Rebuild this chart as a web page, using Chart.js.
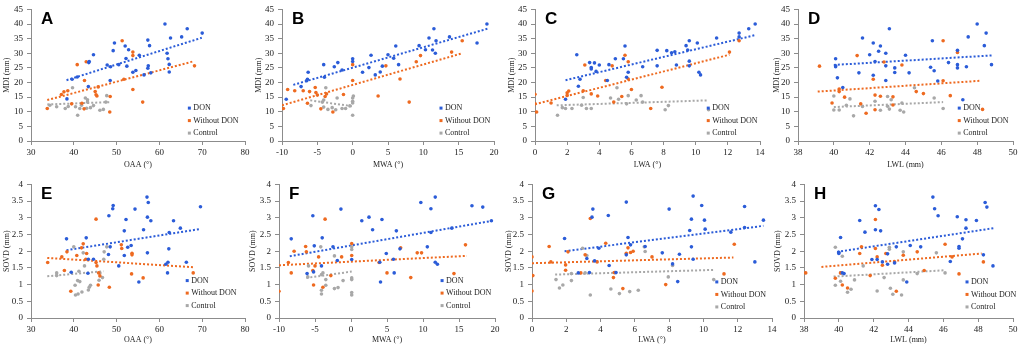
<!DOCTYPE html>
<html>
<head>
<meta charset="utf-8">
<script src="https://cdn.jsdelivr.net/npm/chart.js@4.4.0/dist/chart.umd.min.js"></script>
<style>
  body { margin: 0; background: #fff; width: 1021px; height: 350px; position: relative; overflow: hidden; }
  canvas { position: absolute; }
</style>
</head>
<body>
<script>
// series names + colours
const seriesNames = ["DON", "Without DON", "Control"];
const blue = "#2B5CD8", orange = "#EE6A20", gray = "#A8A8A8";

// ---- A : MDI vs OAA ----
const donA = [[61.3,40.0],[66.5,38.4],[70.0,36.9],[62.6,35.2],[65.2,35.6],[57.3,34.5],[49.5,33.5],[52.0,32.5],[57.7,32.6],[52.8,31.2],[49.2,30.9],[44.6,29.5],[55.3,29.3],[61.8,30.0],[62.0,28.1],[52.2,28.2],[43.6,27.2],[43.5,26.8],[47.8,26.0],[50.5,26.1],[48.6,25.4],[52.4,25.6],[57.4,25.7],[57.3,24.9],[62.3,26.2],[54.5,24.1],[53.8,23.5],[62.3,23.6],[58.0,23.3],[56.4,22.6],[40.8,21.9],[39.6,21.1],[48.5,20.7],[43.4,18.6],[38.4,14.4]];
const woA = [[51.3,34.3],[53.8,30.4],[53.8,29.2],[40.8,26.1],[42.9,27.1],[68.2,25.7],[42.5,20.7],[51.7,21.1],[45.7,18.5],[37.1,15.9],[37.7,16.8],[38.6,17.2],[45.0,16.9],[45.2,15.8],[45.4,15.4],[48.5,15.2],[53.8,17.6],[41.9,12.9],[39.5,12.7],[42.4,11.0],[33.8,11.1],[48.4,9.9],[56.1,13.3]];
const ctlA = [[39.7,18.2],[47.7,15.5],[42.7,14.7],[43.2,14.1],[43.2,13.3],[47.5,13.3],[34.4,12.2],[36.0,11.7],[38.7,11.8],[40.4,11.7],[41.4,11.1],[41.8,12.2],[43.0,11.2],[43.9,11.4],[46.1,10.5],[46.9,10.8],[40.9,8.8],[38.0,11.1],[44.6,12.1]];
const donLineA = [[38.3,20.8],[69.9,35.3]];
const woLineA = [[33.8,14.0],[68.1,27.3]];
const ctlLineA = [[33.8,12.5],[48.5,13.3]];

// ---- B : MDI vs MWA ----
const donB = [[19.0,40.0],[11.5,38.4],[10.8,35.2],[13.7,35.6],[11.8,34.3],[17.6,33.5],[6.1,32.5],[9.4,32.6],[5.0,29.5],[2.6,29.3],[5.8,28.3],[10.3,31.2],[11.3,31.1],[11.7,30.0],[0.0,28.1],[0.0,27.2],[-2.1,26.8],[-4.1,26.1],[6.5,26.1],[-2.6,25.4],[4.2,25.6],[2.3,25.1],[-1.5,24.3],[-6.3,23.5],[1.4,23.5],[3.9,23.6],[-4.0,21.8],[-6.4,21.1],[-6.5,20.6],[3.2,22.6],[-7.3,18.6],[-9.4,14.3]];
const woB = [[15.5,34.3],[14.0,30.4],[9.6,29.2],[9.0,27.1],[4.7,25.7],[0.0,26.1],[0.0,20.7],[6.7,21.2],[-9.2,17.6],[-8.2,17.2],[-7.0,17.2],[-6.1,16.9],[-5.3,18.3],[-5.2,16.6],[-3.7,16.1],[-1.3,15.9],[-3.9,15.2],[3.6,15.4],[-5.0,15.7],[-6.4,12.9],[-9.8,11.1],[-4.5,11.0],[-2.8,9.9],[8.0,13.3]];
const ctlB = [[-3.8,18.2],[0.1,15.4],[0,14.7],[0,13.6],[0,13.0],[0,8.8],[-2.2,14.7],[-4.1,14.0],[-5.9,12.1],[-4.1,11.6],[-3.5,10.8],[-1.5,11.1],[-1.0,11.1],[-0.4,12.0],[-2.4,10.7],[-4.3,13.3],[-2.9,11.4]];
const donLineB = [[-8.4,19.2],[19.1,38.4]];
const woLineB = [[-10,12.2],[15.5,30.0]];
const ctlLineB = [[-6.0,13.9],[-0.1,11.9]];

// ---- C : MDI vs LWA ----
const donC = [[13.7,40.0],[13.3,38.4],[12.7,35.6],[12.7,36.9],[11.3,35.2],[9.6,34.3],[10.1,33.5],[9.4,32.6],[8.2,30.9],[8.5,30.2],[9.5,31.1],[2.6,29.5],[5.6,32.5],[3.4,26.8],[3.7,26.7],[4.0,26.0],[4.6,26.1],[5.5,28.1],[5.0,28.1],[3.5,25.1],[3.5,24.6],[3.8,23.8],[5.8,23.5],[5.7,21.8],[6.7,25.4],[7.6,25.7],[8.7,30.5],[8.8,26.0],[7.6,31.0],[9.6,27.3],[9.6,25.7],[10.2,23.5],[10.3,22.6],[2.8,21.1],[4.5,20.7],[2.7,18.7],[1.9,14.3]];
const woC = [[12.7,34.3],[12.1,30.4],[5.6,29.3],[5.8,27.1],[3.1,26.0],[4.8,25.7],[4.4,20.7],[5.8,21.2],[7.9,18.4],[6.0,17.6],[0,16.0],[2.0,16.5],[2.1,17.1],[2.0,15.6],[3.0,17.2],[3.5,16.1],[3.9,15.4],[5.4,15.2],[1.0,13.0],[0.1,9.9],[0,12.7],[4.9,13.3],[7.2,11.1]];
const ctlC = [[5.1,18.2],[3.0,14.9],[4.7,14.7],[6.6,15.5],[5.8,15.5],[6.3,14.0],[5.2,14.3],[6.7,13.3],[5.7,12.7],[8.3,12.1],[1.4,8.8],[1.7,11.4],[1.9,11.1],[2.3,11.1],[2.9,12.2],[3.2,11.1],[3.5,11.1],[8.1,10.7],[10.8,10.7]];
const donLineC = [[1.9,20.8],[13.7,36.2]];
const woLineC = [[0,12.6],[12.1,29.5]];
const ctlLineC = [[1.35,12.2],[10.8,13.9]];

// ---- D : MDI vs LWL ----
const donD = [[48.0,40.0],[48.5,36.9],[47.5,35.6],[41.6,35.2],[45.5,34.3],[43.1,38.4],[42.2,33.5],[42.6,32.5],[48.4,32.6],[42.5,30.7],[46.9,31.0],[42.9,30.0],[42.0,29.5],[44.0,29.3],[40.1,28.1],[42.3,27.2],[46.4,26.8],[46.9,26.1],[48.8,26.1],[42.9,25.7],[40.1,25.7],[40.1,25.4],[47.4,25.4],[46.9,25.0],[45.4,25.2],[43.4,25.0],[45.6,24.0],[43.4,23.4],[44.2,23.3],[41.4,23.3],[42.2,22.5],[40.2,21.6],[42.9,20.7],[45.8,20.5],[40.5,18.3],[47.2,14.1]];
const woD = [[46.1,34.3],[46.9,30.3],[41.3,29.2],[42.8,27.0],[43.8,26.0],[39.2,25.6],[42.2,21.1],[46.1,20.6],[40.3,17.8],[40.6,15.0],[44.6,16.9],[45.0,16.2],[46.5,15.5],[42.3,15.7],[42.6,15.3],[43.3,15.1],[41.5,12.7],[43.3,12.3],[39.9,13.0],[41.8,9.5],[42.3,10.7],[48.3,10.8],[40.3,16.9]];
const ctlD = [[44.5,18.2],[40.0,15.4],[40.9,14.4],[43.0,15.2],[43.2,14.1],[45.6,14.7],[42.3,13.6],[43.8,13.0],[40.7,12.2],[41.6,11.8],[43.0,11.9],[40.0,10.6],[40.3,10.6],[42.6,10.5],[43.7,10.5],[43.1,10.9],[41.1,8.6],[46.1,11.1],[43.9,9.9]];
const donLineD = [[40.0,26.0],[48.9,29.3]];
const woLineD = [[39.1,16.9],[48.2,20.6]];
const ctlLineD = [[40.0,11.6],[46.1,13.3]];

// ---- E : SOVD vs OAA ----
const donE = [[57.1,3.62],[57.4,3.46],[49.2,3.37],[49.1,3.27],[54.3,3.26],[69.6,3.33],[48.2,3.06],[57.2,3.02],[52.2,2.95],[58.0,2.91],[63.3,2.91],[51.8,2.61],[56.3,2.64],[62.3,2.56],[64.9,2.69],[38.3,2.37],[42.9,2.40],[48.5,2.13],[52.6,2.12],[53.4,2.17],[62.2,2.07],[57.2,1.95],[51.8,1.87],[48.1,1.90],[43.4,1.76],[44.6,1.76],[62.0,1.67],[66.3,1.67],[61.5,1.61],[50.5,1.56],[39.4,1.37],[43.3,1.34],[61.9,1.35],[55.2,1.08]];
const woE = [[45.2,2.96],[42.2,2.22],[41.8,2.10],[40.7,1.87],[43.0,1.93],[38.4,1.98],[37.2,1.83],[51.1,2.19],[51.2,2.08],[53.6,1.94],[53.6,1.89],[42.8,1.76],[45.2,1.66],[45.4,1.56],[33.9,1.66],[37.8,1.42],[45.8,1.35],[46.1,1.26],[53.5,1.32],[56.2,1.20],[67.9,1.35],[45.7,0.99],[48.3,0.92],[39.3,0.80]];
const ctlE = [[40.0,2.13],[42.2,1.95],[47.1,1.98],[47.7,2.13],[42.5,1.56],[47.0,1.76],[36.0,1.35],[36.0,1.27],[41.2,1.40],[46.1,1.35],[46.7,1.21],[45.9,1.13],[40.9,1.12],[41.4,1.09],[40.3,0.98],[43.6,0.92],[43.4,0.84],[41.9,0.78],[41.0,0.72],[40.4,0.69],[43.9,0.98]];
const donLineE = [[38.3,2.03],[69.3,2.66]];
const woLineE = [[33.8,1.80],[67.9,1.52]];
const ctlLineE = [[33.8,1.25],[46.9,1.40]];

// ---- F : SOVD vs MWA ----
const donF = [[11.7,3.62],[11.1,3.27],[9.7,3.46],[16.8,3.36],[18.3,3.32],[-1.4,3.26],[-5.3,3.06],[2.5,3.02],[4.3,2.95],[1.5,2.91],[19.5,2.91],[3.0,2.64],[6.3,2.61],[11.1,2.56],[14.0,2.69],[-8.3,2.37],[-4.0,2.40],[-5.1,2.16],[-2.5,2.13],[10.6,2.13],[6.8,2.07],[4.9,1.93],[0.1,1.75],[-1.9,1.72],[5.9,1.76],[4.0,1.67],[11.7,1.67],[12.0,1.61],[-4.1,1.56],[-5.2,1.38],[-6.1,1.33],[6.0,1.35],[4.1,1.08]];
const woF = [[-3.6,2.96],[0.1,2.23],[0.1,1.87],[-6.3,2.14],[-6.2,1.98],[-7.9,2.0],[-4.5,1.83],[-1.3,1.83],[15.9,2.19],[6.9,2.10],[9.2,1.95],[9.8,1.95],[3.9,1.66],[-8.7,1.66],[-5.0,1.56],[-5.3,1.42],[-8.3,1.35],[-2.8,1.27],[5.0,1.35],[8.3,1.21],[14.3,1.33],[-5.2,0.99],[-3.9,0.92],[-10,0.80]];
const ctlF = [[-4.2,2.13],[-2.3,1.86],[0.1,2.13],[0.1,2.05],[-5.9,1.56],[-3.9,1.35],[-4.1,1.30],[-6.0,1.23],[0.1,1.20],[0.1,1.15],[-3.5,1.15],[-1.1,1.12],[-3.5,0.98],[-4.1,0.83],[-2.3,0.88],[-1.8,0.91],[-4.1,0.72],[0.1,0.76],[0.1,0.69]];
const donLineF = [[-8.5,1.85],[19.6,2.91]];
const woLineF = [[-10,1.58],[16.1,1.86]];
const ctlLineF = [[-6.2,1.20],[0.1,1.39]];

// ---- G : SOVD vs LWA ----
const donG = [[9.4,3.65],[5.5,3.47],[3.55,3.26],[3.5,3.02],[4.45,3.07],[8.0,3.26],[9.9,3.37],[12.4,3.34],[9.3,2.96],[10.06,2.93],[13.5,2.93],[9.2,2.62],[10.1,2.66],[11.6,2.57],[12.4,2.71],[5.6,2.41],[1.9,2.38],[3.9,2.09],[5.75,2.19],[6.6,2.14],[9.3,2.13],[7.6,1.95],[5.5,1.89],[8.6,1.91],[9.4,1.76],[3.2,1.78],[3.65,1.71],[4.5,1.57],[13.0,1.68],[8.2,1.62],[2.7,1.35],[3.35,1.36],[4.9,1.36],[8.5,1.09]];
const woG = [[3.4,2.98],[4.3,2.24],[5.6,2.10],[1.0,2.14],[11.8,2.21],[3.1,1.89],[2.1,1.98],[0,1.83],[5.5,1.94],[5.75,1.96],[5.9,2.0],[7.0,1.83],[1.1,1.68],[1.96,1.59],[3.8,1.68],[1.96,1.43],[2.85,1.35],[4.8,1.36],[4.75,1.21],[0.05,1.27],[0,0.81],[11.2,1.32],[7.8,1.0],[5.3,0.88]];
const ctlG = [[2.95,2.09],[6.55,2.13],[6.6,1.99],[3.2,1.87],[8.2,1.57],[1.4,1.15],[2.3,1.33],[3.1,1.35],[4.85,1.36],[7.95,1.23],[10.6,1.15],[2.3,1.12],[1.8,0.99],[1.6,0.90],[4.6,0.87],[6.2,0.83],[5.7,0.79],[5.1,0.73],[3.4,0.69]];
const donLineG = [[1.9,2.0],[13.5,2.76]];
const woLineG = [[0,1.64],[11.75,1.81]];
const ctlLineG = [[1.35,1.30],[10.6,1.44]];

// ---- H : SOVD vs LWL ----
const donH = [[45.4,3.62],[45.5,3.27],[45.7,3.06],[48.4,3.46],[48.5,3.32],[42.1,3.36],[42.3,3.25],[41.2,2.92],[46.8,3.03],[47.3,2.94],[47.9,2.92],[42.1,2.64],[42.4,2.61],[41.5,2.57],[47.3,2.69],[47.1,2.37],[40.1,2.41],[44.7,2.13],[44.1,2.17],[46.9,2.09],[46.9,2.14],[43.3,2.13],[40.0,1.97],[40.0,1.93],[42.8,1.92],[48.3,1.89],[42.2,1.75],[41.9,1.75],[42.5,1.68],[46.4,1.69],[43.2,1.65],[42.8,1.61],[48.85,1.56],[40.2,1.35],[40.3,1.33],[43.9,1.08]];
const woH = [[42.1,2.95],[41.3,2.13],[42.1,2.08],[41.2,1.93],[42.7,1.93],[43.7,1.88],[44.5,1.98],[46.1,2.21],[42.2,1.83],[46.5,1.83],[42.5,1.58],[43.2,1.68],[48.3,1.68],[38.1,1.35],[40.1,1.35],[39.8,1.19],[41.8,1.27],[40.2,0.99],[40.5,0.90],[43.3,0.80],[46.9,1.32],[44.9,1.42]];
const ctlH = [[39.8,2.12],[40.2,1.85],[42.9,2.12],[42.9,2.06],[43.7,1.98],[45.6,1.95],[41.4,1.56],[40.1,1.35],[46.1,1.35],[44.5,1.33],[43.7,1.14],[40.9,1.14],[42.6,1.21],[40.1,1.10],[39.8,0.98],[40.7,0.86],[40.5,0.77],[42.2,0.81],[42.96,0.89],[43.1,0.71],[43.6,0.69]];
const donLineH = [[39.9,1.98],[48.9,2.69]];
const woLineH = [[39.0,1.53],[48.2,1.93]];
const ctlLineH = [[39.7,1.24],[46.1,1.43]];

// axis ranges [min, max, step]
const oaaRange = [30, 80, 10], mwaRange = [-10, 20, 5], lwaRange = [0, 14, 2], lwlRange = [38, 50, 2];
const mdiRange = [0, 45, 5], sovdRange = [0, 4, 0.5];

const panels = [
  { letter: "A", row: 0, left: 0,   plotL: 31,  plotR: 245,  xr: oaaRange, yr: mdiRange,  xt: "OAA (°)",  yt: "MDI (mm)",  leg: [0.74, 0.75], s: [donA, woA, ctlA, donLineA, woLineA, ctlLineA] },
  { letter: "B", row: 0, left: 252, plotL: 282, plotR: 494,  xr: mwaRange, yr: mdiRange,  xt: "MWA (°)",  yt: "MDI (mm)",  leg: [0.75, 0.75], s: [donB, woB, ctlB, donLineB, woLineB, ctlLineB] },
  { letter: "C", row: 0, left: 505, plotL: 535, plotR: 760,  xr: lwaRange, yr: mdiRange,  xt: "LWA (°)",  yt: "MDI (mm)",  leg: [0.77, 0.75], s: [donC, woC, ctlC, donLineC, woLineC, ctlLineC] },
  { letter: "D", row: 0, left: 770, plotL: 798, plotR: 1013, xr: lwlRange, yr: mdiRange,  xt: "LWL (mm)", yt: "MDI (mm)",  leg: [0.75, 0.75], s: [donD, woD, ctlD, donLineD, woLineD, ctlLineD] },
  { letter: "E", row: 1, left: 0,   plotL: 31,  plotR: 245,  xr: oaaRange, yr: sovdRange, xt: "OAA (°)",  yt: "SOVD (mm)", leg: [0.73, 0.72], s: [donE, woE, ctlE, donLineE, woLineE, ctlLineE] },
  { letter: "F", row: 1, left: 246, plotL: 279, plotR: 495,  xr: mwaRange, yr: sovdRange, xt: "MWA (°)",  yt: "SOVD (mm)", leg: [0.755, 0.72], s: [donF, woF, ctlF, donLineF, woLineF, ctlLineF] },
  { letter: "G", row: 1, left: 502, plotL: 532, plotR: 772,  xr: lwaRange, yr: sovdRange, xt: "LWA (°)",  yt: "SOVD (mm)", leg: [0.77, 0.73], s: [donG, woG, ctlG, donLineG, woLineG, ctlLineG] },
  { letter: "H", row: 1, left: 771, plotL: 804, plotR: 1013, xr: lwlRange, yr: sovdRange, xt: "LWL (mm)", yt: "SOVD (mm)", leg: [0.78, 0.73], s: [donH, woH, ctlH, donLineH, woLineH, ctlLineH] }
];

const colors = [blue, orange, gray];
const toXY = arr => arr.map(p => ({ x: p[0], y: p[1] }));

// panel letter + inside legend
const decor = {
  id: "decor",
  afterDraw(chart, args, o) {
    const { ctx, chartArea: a } = chart;
    ctx.save();
    ctx.fillStyle = "#000";
    ctx.font = 'bold 17px "Liberation Sans"';
    ctx.textBaseline = "top";
    ctx.fillText(o.letter, a.left + 10, a.top + 1);
    const lx = a.left + (a.right - a.left) * o.leg[0];
    const ly = a.top + (a.bottom - a.top) * o.leg[1];
    ctx.font = '8px "Liberation Serif"';
    ctx.textBaseline = "middle";
    seriesNames.forEach((t, i) => {
      ctx.fillStyle = colors[i];
      ctx.fillRect(lx - 1.5, ly + i * 12.5 - 1.5, 3, 3);
      ctx.fillStyle = "#222";
      ctx.fillText(t, lx + 4, ly + i * 12.5);
    });
    ctx.restore();
  }
};

const axisStyle = {
  grid: { display: true, drawOnChartArea: false, drawTicks: true, tickLength: 4, color: "#8c8c8c" },
  border: { display: true, color: "#8c8c8c" }
};
const tickFont = { family: "Liberation Serif", size: 9 };
const titleFont = { family: "Liberation Serif", size: 8 };

panels.forEach(p => {
  const cv = document.createElement("canvas");
  const top = p.row * 175;
  const w = p.plotR - p.left + 10;
  const yw = p.plotL - p.left;
  const padTop = p.row === 0 ? 5 : 6;
  const xh = p.row === 0 ? 34 : 32;
  cv.width = w; cv.height = 175;
  cv.style.left = p.left + "px"; cv.style.top = top + "px";
  cv.style.width = w + "px"; cv.style.height = "175px";
  document.body.appendChild(cv);

  const datasets = [];
  for (let i = 0; i < 3; i++) {
    datasets.push({
      data: toXY(p.s[i]), backgroundColor: colors[i], borderWidth: 0,
      pointRadius: 1.8, pointStyle: "circle", order: 0
    });
  }
  for (let i = 0; i < 3; i++) {
    datasets.push({
      data: toXY(p.s[i + 3]), showLine: true, borderColor: colors[i], borderWidth: 2,
      borderDash: [2, 2], pointRadius: 0, fill: false, order: 1
    });
  }

  new Chart(cv, {
    type: "scatter",
    data: { datasets },
    options: {
      responsive: false, animation: false, devicePixelRatio: 1,
      layout: { padding: { top: padTop, right: 10, left: 0, bottom: 0 } },
      plugins: { legend: { display: false }, tooltip: { enabled: false }, decor: { letter: p.letter, leg: p.leg } },
      scales: {
        x: {
          type: "linear", min: p.xr[0], max: p.xr[1], ...axisStyle,
          ticks: { stepSize: p.xr[2], color: "#222", font: tickFont, padding: 2, maxRotation: 0, autoSkip: false, callback: v => String(v) },
          title: { display: true, text: p.xt, color: "#222", font: titleFont, padding: { top: 0, bottom: 5 } },
          afterFit: s => { s.height = xh; }
        },
        y: {
          type: "linear", min: p.yr[0], max: p.yr[1], ...axisStyle,
          ticks: { stepSize: p.yr[2], color: "#222", font: tickFont, padding: 4, autoSkip: false, callback: v => String(v) },
          title: { display: true, text: p.yt, color: "#222", font: titleFont, padding: { top: 2, bottom: 0 } },
          afterFit: s => { s.width = yw; }
        }
      }
    },
    plugins: [decor]
  });
});
</script>
</body>
</html>
